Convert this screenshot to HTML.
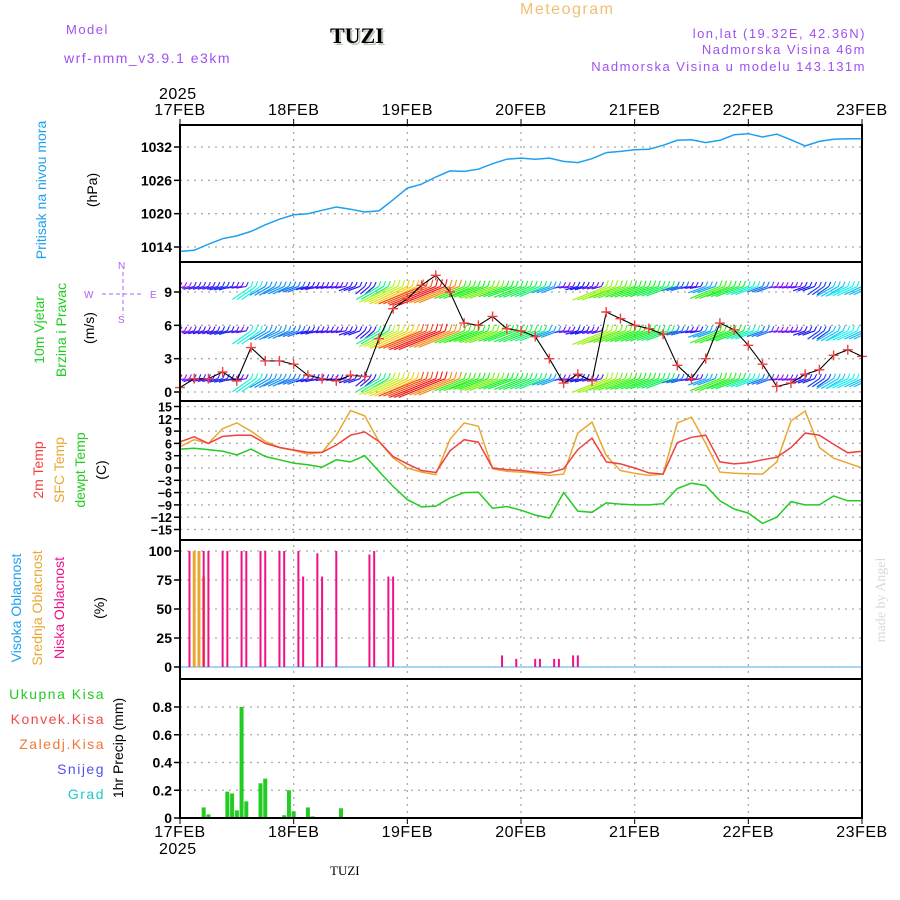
<!DOCTYPE html>
<html><head><meta charset="utf-8"><style>
html,body{margin:0;padding:0;background:#fff;}
svg{display:block;font-family:"Liberation Sans",sans-serif;}
.hd{letter-spacing:1.5px;font-size:13px;}
.tk{font-size:14px;font-weight:bold;fill:#000;}
.dl{font-size:16px;fill:#000;letter-spacing:0.5px;}
.grid{stroke:#aaa;stroke-width:1.3;stroke-dasharray:2,5;}
</style></head><body>
<svg id="chart" width="900" height="900" viewBox="0 0 900 900" xmlns="http://www.w3.org/2000/svg">
<defs><clipPath id="windclip"><rect x="180" y="263" width="682" height="137"/></clipPath></defs>
<text x="66" y="34" class="hd" fill="#a050f0">Model</text>
<text x="64" y="63" class="hd" fill="#a050f0" style="font-size:14px">wrf-nmm_v3.9.1 e3km</text>
<text x="332" y="45" style="font-family:'Liberation Serif',serif;font-weight:bold;font-size:22px" fill="#bcc8b8">TUZI</text>
<text x="330" y="43" style="font-family:'Liberation Serif',serif;font-weight:bold;font-size:22px" fill="#000">TUZI</text>
<text x="520" y="14" class="hd" fill="#f0c070" style="font-size:16px">Meteogram</text>
<text x="866" y="38" class="hd" fill="#a050f0" text-anchor="end">lon,lat (19.32E, 42.36N)</text>
<text x="866" y="54" class="hd" fill="#a050f0" text-anchor="end">Nadmorska Visina 46m</text>
<text x="866" y="71" class="hd" fill="#a050f0" text-anchor="end">Nadmorska Visina u modelu 143.131m</text>

<g font-size="14">
<text transform="translate(46,190) rotate(-90)" text-anchor="middle" fill="#1ea0f0">Pritisak na nivou mora</text>
<text transform="translate(97,190) rotate(-90)" text-anchor="middle" fill="#000">(hPa)</text>
<text transform="translate(44,330) rotate(-90)" text-anchor="middle" fill="#22cc22">10m Vjetar</text>
<text transform="translate(66,330) rotate(-90)" text-anchor="middle" fill="#22cc22">Brzina i Pravac</text>
<text transform="translate(94,328) rotate(-90)" text-anchor="middle" fill="#000">(m/s)</text>
<g fill="#b060f0" stroke="#b060f0" font-size="10">
<text x="84" y="298" stroke="none">W</text><text x="150" y="298" stroke="none">E</text>
<text x="118" y="269" stroke="none">N</text><text x="118" y="323" stroke="none">S</text>
<line x1="102" y1="294" x2="142" y2="294" stroke-dasharray="4,3"/><line x1="123" y1="272" x2="123" y2="315" stroke-dasharray="4,3"/>
</g>
<text transform="translate(43,470) rotate(-90)" text-anchor="middle" fill="#f04040">2m Temp</text>
<text transform="translate(64,470) rotate(-90)" text-anchor="middle" fill="#e8a830">SFC Temp</text>
<text transform="translate(85,470) rotate(-90)" text-anchor="middle" fill="#22cc22">dewpt Temp</text>
<text transform="translate(106,470) rotate(-90)" text-anchor="middle" fill="#000">(C)</text>
<text transform="translate(21,608) rotate(-90)" text-anchor="middle" fill="#1ea0f0">Visoka Oblacnost</text>
<text transform="translate(42,608) rotate(-90)" text-anchor="middle" fill="#e8a830">Srednja Oblacnost</text>
<text transform="translate(64,608) rotate(-90)" text-anchor="middle" fill="#f0108a">Niska Oblacnost</text>
<text transform="translate(104,608) rotate(-90)" text-anchor="middle" fill="#000">(%)</text>
<g class="hd" style="font-size:14px" text-anchor="end">
<text x="105" y="699" fill="#22cc22">Ukupna Kisa</text>
<text x="105" y="724" fill="#f04848">Konvek.Kisa</text>
<text x="105" y="749" fill="#f07838">Zaledj.Kisa</text>
<text x="105" y="774" fill="#5050f0">Snijeg</text>
<text x="105" y="799" fill="#20c8c8">Grad</text>
</g>
<text transform="translate(123,748) rotate(-90)" text-anchor="middle" fill="#000">1hr Precip (mm)</text>
</g>
<text transform="translate(885,600) rotate(-90)" text-anchor="middle" font-family="Liberation Serif,serif" font-size="14" fill="#d4dcd4">made by Angel</text>
<text x="330" y="875" font-family="Liberation Serif,serif" font-size="13" fill="#000">TUZI</text>
<g id="plot"></g>
</svg>
<script>
const NS="http://www.w3.org/2000/svg";
const days=["17FEB","18FEB","19FEB","20FEB","21FEB","22FEB","23FEB"];
const hours3=[0,3,6,9,12,15,18,21,24,27,30,33,36,39,42,45,48,51,54,57,60,63,66,69,72,75,78,81,84,87,90,93,96,99,102,105,108,111,114,117,120,123,126,129,132,135,138,141,144];
const pressure=[1013.2,1013.4,1014.5,1015.5,1016,1016.8,1018,1019,1019.8,1020,1020.6,1021.2,1020.8,1020.3,1020.5,1022.5,1024.6,1025.3,1026.6,1027.7,1027.6,1028,1029,1029.8,1030,1029.8,1030,1029.4,1029.2,1029.9,1031,1031.2,1031.5,1031.6,1032.3,1033.2,1033.3,1032.8,1033.2,1034.2,1034.4,1033.8,1034.3,1033.3,1032.2,1033,1033.4,1033.5,1033.5];
const windSpeed=[0.4,1.2,1.2,1.8,1,4,2.8,2.8,2.5,1.5,1.2,1,1.5,1.4,4.8,7.5,8.4,9.6,10.5,9,6.2,6,6.8,5.7,5.5,5,3,0.8,1.6,1,7.2,6.6,6,5.7,5.2,2.4,1.2,3,6.2,5.6,4.2,2.5,0.5,0.8,1.6,2,3.3,3.8,3.2];
const windDir=[15,15,15,15,10,35,30,25,20,15,10,10,20,40,30,25,25,22,22,22,22,20,20,20,22,22,20,10,15,15,22,20,20,20,20,15,10,20,22,20,20,20,10,10,20,35,30,25,25];
const t2m=[6.4,7.6,6,7.7,8,8,6,5,4.4,3.8,3.8,5.6,8,8.8,6.5,2.8,1,-0.6,-1.1,4.2,6.9,6.3,0,-0.4,-0.6,-1,-1.2,-0.2,4.5,7.3,1.5,1,0,-1.2,-1.5,6.2,7.5,8,1.5,1,1.3,2,2.6,5,8.5,8,5.8,3.7,4.1];
const tsfc=[5.2,6.9,6,9.6,11,9,6.5,5,4.3,3.4,3.8,8,14,12.7,6.5,2.5,0,-1,-1.6,7,11,10.2,-0.2,-0.8,-1,-1.3,-1.8,-1.5,8.5,11.2,3,-0.6,-1.3,-1.8,-1.5,11,12.4,6,-1,-1.3,-1.4,-1.5,1.5,11.5,13.9,5,2.4,1.2,0];
const tdew=[4.6,4.8,4.5,4.1,3.2,4.6,2.8,2,1.2,0.8,0.2,2,1.5,3,-0.8,-4.5,-7.7,-9.5,-9.3,-7.3,-6,-5.9,-9.8,-9.4,-10.3,-11.5,-12.2,-6,-10.5,-10.8,-8.5,-8.8,-9,-9,-8.7,-5,-3.7,-4.3,-8,-10,-11,-13.5,-12,-8.2,-9,-9,-6.8,-8,-8];
const lowCloudHours=[2,5,6,9,10,13,14,17,18,21,22,25,26,29,30,33,40,41,44,45,68,71,75,76,79,80,83,84];
const lowCloud=[100,100,100,100,100,100,100,100,100,100,100,100,78,98,78,100,97,100,78,78,10,7,7,7,7,7,10,10];
const midCloudHours=[3,4,5];
const midCloud=[100,100,78];
const precipHours=[5,6,10,11,12,13,14,17,18,22,23,24,27,28,34];
const precip=[0.076,0.026,0.19,0.177,0.055,0.8,0.12,0.25,0.284,0.02,0.2,0.048,0.076,0.012,0.07];
const pTicks=[1014,1020,1026,1032];
const wTicks=[0,3,6,9];
const tTicks=[15,12,9,6,3,0,-3,-6,-9,-12,-15];
const cTicks=[0,25,50,75,100];
const rTicks=[0,0.2,0.4,0.6,0.8];

const X=h=>180+h*682/144;
const yP=v=>247-(v-1014)*100/18;
const yW=v=>392-v*100/9;
const yT=v=>468-v*123/30;
const yC=v=>667-v*116/100;
const yR=v=>818-v*111/0.8;
const plot=document.getElementById('plot');
function mk(tag,attrs,parent){const e=document.createElementNS(NS,tag);for(const k in attrs)e.setAttribute(k,attrs[k]);(parent||plot).appendChild(e);return e;}

const panels=[[125,262],[262,401],[401,540],[540,679],[679,818]];
for(let d=1;d<days.length-1;d++){
  const gl=mk('line',{x1:X(d*24),x2:X(d*24),y1:125,y2:818,class:'grid'});
  
  
}
function hgrid(ticks,yf,lab,name,fs){
  ticks.forEach(t=>{
    const g=mk('line',{x1:180,x2:862,y1:yf(t),y2:yf(t),class:'grid'});
    
    
    mk('line',{x1:174,x2:180,y1:yf(t),y2:yf(t),stroke:'#000','stroke-width':1.5});
    const tx=mk('text',{x:172,y:yf(t)+5,'text-anchor':'end',class:'tk'});
    if(fs)tx.setAttribute('style','font-size:'+fs+'px');
    tx.textContent=lab?lab(t):t;
    
    
  });
}
hgrid(pTicks,yP,null,'pressure');
hgrid(wTicks,yW,null,'wind');
hgrid(tTicks,yT,t=>t<0?'\u2212'+(-t):t,'temp',12.5);
hgrid(cTicks,yC,null,'cloud');
hgrid(rTicks,yR,t=>t===0?'0':t.toFixed(1),'precip');

function pathOf(hs,vs,yf){return hs.map((h,i)=>(i?'L':'M')+X(h).toFixed(1)+','+yf(vs[i]).toFixed(1)).join('');}
const pl=mk('path',{d:pathOf(hours3,pressure,yP),fill:'none',stroke:'#1ea0f0','stroke-width':1.5});



const wg=mk('g',{'clip-path':'url(#windclip)'});


function speedColor(s){const hue=Math.max(0,285-s*28);return 'hsl('+hue+',90%,52%)';}
[1.2,5.5,9.5,13.5].forEach(row=>{
  hours3.forEach((h,i)=>{
    const s=windSpeed[i],a=windDir[i]*Math.PI/180,L=6+s*4.2;
    const x0=X(h),y0=yW(row);
    const col=speedColor(s);
    for(let k=0;k<3;k++){
      const x1=x0+k*4.7,y1=y0;
      const x2=x1-L*Math.cos(a),y2=y1+L*Math.sin(a);
      const b=mk('line',{x1:x1,y1:y1,x2:x2,y2:y2,stroke:col,'stroke-width':1.2},wg);
      
      
      const f=mk('line',{x1:x1,y1:y1,x2:x1+2,y2:y1-4-s*0.3,stroke:col,'stroke-width':1.1},wg);
      
      
    }
  });
});
const wl=mk('path',{d:pathOf(hours3,windSpeed,yW),fill:'none',stroke:'#000','stroke-width':1.1});


hours3.forEach((h,i)=>{
  const x=X(h),y=yW(windSpeed[i]);
  const m=mk('path',{d:`M${x-5},${y}H${x+5}M${x},${y-5}V${y+5}`,stroke:'#f04040','stroke-width':1.4});
  
  
});

[[tdew,'#22cc22','dewpoint-line'],[tsfc,'#e8a830','sfc-temp-line'],[t2m,'#f04040','t2m-line']].forEach(([v,c,n])=>{
  const p=mk('path',{d:pathOf(hours3,v,yT),fill:'none',stroke:c,'stroke-width':1.5});
  
  
});

const cb=mk('line',{x1:180,x2:862,y1:yC(0),y2:yC(0),stroke:'#8ac8f0','stroke-width':1.5});


midCloudHours.forEach((h,i)=>{
  const r=mk('rect',{x:X(h)-1.5,y:yC(midCloud[i]),width:3,height:yC(0)-yC(midCloud[i]),fill:'#e8a830'});
  
  
});
lowCloudHours.forEach((h,i)=>{
  const r=mk('rect',{x:X(h)-1,y:yC(lowCloud[i]),width:2,height:yC(0)-yC(lowCloud[i]),fill:'#f0108a'});
  
  
});
precipHours.forEach((h,i)=>{
  const r=mk('rect',{x:X(h)-2,y:yR(precip[i]),width:4,height:yR(0)-yR(precip[i]),fill:'#22cc22'});
  
  
});

panels.forEach(([a,b])=>{
  const f=mk('rect',{x:180,y:a,width:682,height:b-a,fill:'none',stroke:'#000','stroke-width':2});
  
  
});
days.forEach((d,i)=>{
  const x=X(i*24);
  mk('line',{x1:x,x2:x,y1:119,y2:125,stroke:'#000','stroke-width':1});
  mk('line',{x1:x,x2:x,y1:818,y2:824,stroke:'#000','stroke-width':1});
  const t=mk('text',{x:x,y:115,'text-anchor':'middle',class:'dl'});t.textContent=d;
  
  
  const b=mk('text',{x:x,y:837,'text-anchor':'middle',class:'dl'});b.textContent=d;
  
  
});
const y1=mk('text',{x:159,y:99,class:'dl'});y1.textContent='2025';


const y2=mk('text',{x:159,y:854,class:'dl'});y2.textContent='2025';


</script>
</body></html>
